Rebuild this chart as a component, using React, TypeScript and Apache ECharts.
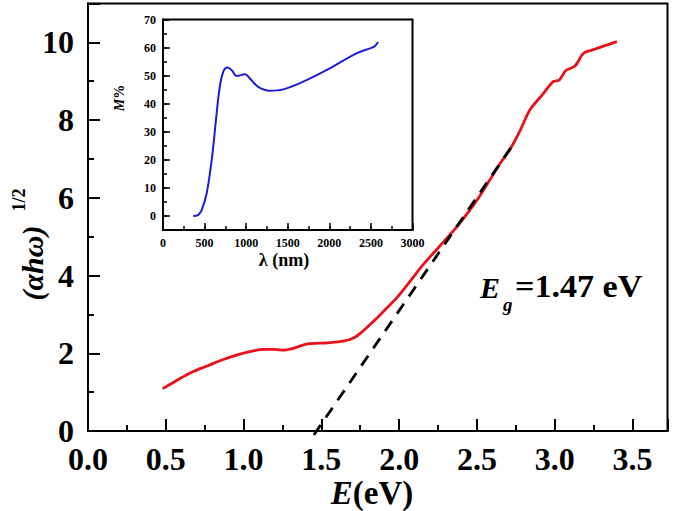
import React, { useEffect, useRef } from 'react';
import * as echarts from 'echarts';

const FONT = '"Liberation Serif", "Times New Roman", serif';

// Main curve: photon energy (eV) vs (alpha h omega)^1/2
const energyEv = [0.48, 0.57, 0.66, 0.77, 0.87, 0.96, 1.04, 1.13, 1.2, 1.26, 1.33, 1.41, 1.54, 1.64, 1.71, 1.77, 1.84, 1.9, 1.99, 2.08, 2.15, 2.27, 2.38, 2.5, 2.65, 2.71, 2.78, 2.84, 2.92, 2.99, 3.03, 3.07, 3.13, 3.185, 3.24, 3.29, 3.4];
const tauc = [1.09, 1.3, 1.5, 1.68, 1.84, 1.96, 2.04, 2.1, 2.1, 2.08, 2.14, 2.24, 2.27, 2.31, 2.4, 2.58, 2.84, 3.08, 3.45, 3.9, 4.26, 4.8, 5.3, 5.94, 6.89, 7.23, 7.75, 8.26, 8.65, 8.99, 9.03, 9.27, 9.39, 9.72, 9.8, 9.87, 10.02];

// Tangent (band-gap extrapolation)
const tangentX = [1.452, 2.72];
const tangentY = [-0.1, 7.3];

// Inset: wavelength (nm) vs M%
const lambdaNm = [364, 395, 424, 465, 525, 585, 637, 677, 725, 773, 825, 885, 985, 1045, 1145, 1285, 1445, 1726, 2006, 2326, 2506, 2546, 2586];
const mPercent = [0, 0.1, 0.35, 2.1, 8.1, 19.9, 34.2, 44.8, 51.4, 52.9, 52, 49.9, 50.5, 49, 46, 44.6, 45.1, 48.4, 52.6, 57.9, 59.9, 60.5, 62.0];

const mainXLabels = [0, 0.5, 1, 1.5, 2, 2.5, 3, 3.5];
const mainYLabels = [0, 2, 4, 6, 8, 10];
const insetYMajor = [0, 10, 20, 30, 40, 50, 60, 70];

const near = (v: number, arr: number[]) => arr.some((a) => Math.abs(a - v) < 1e-6);

export default function App() {
  const ref = useRef<HTMLDivElement>(null);
  useEffect(() => {
    document.body.style.margin = '0';
    const chart = echarts.init(ref.current!, null, { renderer: 'svg' });
    const black = '#000';
    const baseAxis = {
      type: 'value' as const,
      splitLine: { show: false },
    };
    const option: any = {
      animation: false,
      backgroundColor: '#fff',
      grid: [
        { left: 88, top: 3.5, width: 579.5, height: 427.5, show: true, borderColor: black, borderWidth: 2, backgroundColor: 'transparent' },
        { left: 163, top: 19.5, width: 249.5, height: 210.5, show: true, borderColor: black, borderWidth: 2, backgroundColor: '#fff' },
      ],
      xAxis: [
        {
          ...baseAxis, gridIndex: 0, min: 0, max: 3.725, interval: 0.25, position: 'bottom',
          axisLine: { onZero: false, lineStyle: { color: black, width: 2 } },
          axisTick: { inside: true, length: 6, lineStyle: { color: black, width: 2 } },
          axisLabel: {
            margin: 12, color: black, fontFamily: FONT, fontWeight: 'bold', fontSize: 32,
            formatter: (v: number) => (near(v, mainXLabels) ? v.toFixed(1) : ''),
          },
        },
        {
          ...baseAxis, gridIndex: 0, min: 0, max: 3.725, interval: 0.5, position: 'bottom',
          axisLine: { show: false, onZero: false },
          axisTick: { inside: true, length: 12, lineStyle: { color: black, width: 2 } },
          axisLabel: { show: false },
        },
        {
          ...baseAxis, gridIndex: 1, min: 0, max: 3000, interval: 250, position: 'bottom',
          axisLine: { onZero: false, lineStyle: { color: black, width: 2 } },
          axisTick: { inside: true, length: 4, lineStyle: { color: black, width: 1.5 } },
          axisLabel: {
            margin: 7, color: black, fontFamily: FONT, fontWeight: 'bold', fontSize: 12,
            formatter: (v: number) => (Math.round(v) % 500 === 0 ? String(Math.round(v)) : ''),
          },
        },
        {
          ...baseAxis, gridIndex: 1, min: 0, max: 3000, interval: 500, position: 'bottom',
          axisLine: { show: false, onZero: false },
          axisTick: { inside: true, length: 7, lineStyle: { color: black, width: 1.5 } },
          axisLabel: { show: false },
        },
      ],
      yAxis: [
        {
          ...baseAxis, gridIndex: 0, min: 0, max: 11, interval: 1, position: 'left',
          axisLine: { onZero: false, lineStyle: { color: black, width: 2 } },
          axisTick: { inside: true, length: 6, lineStyle: { color: black, width: 2 } },
          axisLabel: {
            margin: 14, color: black, fontFamily: FONT, fontWeight: 'bold', fontSize: 32,
            formatter: (v: number) => (near(v, mainYLabels) ? String(v) : ''),
          },
        },
        {
          ...baseAxis, gridIndex: 0, min: 0, max: 11, interval: 2, position: 'left',
          axisLine: { show: false, onZero: false },
          axisTick: { inside: true, length: 12, lineStyle: { color: black, width: 2 } },
          axisLabel: { show: false },
        },
        {
          ...baseAxis, gridIndex: 1, min: -5, max: 70, interval: 5, position: 'left',
          axisLine: { onZero: false, lineStyle: { color: black, width: 2 } },
          axisTick: { inside: true, length: 4, lineStyle: { color: black, width: 1.5 } },
          axisLabel: {
            margin: 7, color: black, fontFamily: FONT, fontWeight: 'bold', fontSize: 12,
            formatter: (v: number) => (near(v, insetYMajor) ? String(Math.round(v)) : ''),
          },
        },
        {
          ...baseAxis, gridIndex: 1, min: -5, max: 70, position: 'left',
          axisLine: { show: false, onZero: false },
          axisTick: { inside: true, length: 7, customValues: insetYMajor, lineStyle: { color: black, width: 1.5 } },
          axisLabel: { show: false },
        },
      ],
      series: [
        {
          type: 'line', xAxisIndex: 0, yAxisIndex: 0, smooth: 0.3, showSymbol: false,
          data: energyEv.map((x, i) => [x, tauc[i]]),
          lineStyle: { color: '#e8121a', width: 2.8 },
          z: 2,
        },
        {
          type: 'line', xAxisIndex: 0, yAxisIndex: 0, showSymbol: false, clip: false,
          data: tangentX.map((x, i) => [x, tangentY[i]]),
          lineStyle: { color: black, width: 2.8, type: [12, 9] },
          z: 3,
        },
        {
          type: 'line', xAxisIndex: 2, yAxisIndex: 2, smooth: 0.4, showSymbol: false,
          data: lambdaNm.map((x, i) => [x, mPercent[i]]),
          lineStyle: { color: '#1c1cd6', width: 2 },
          z: 4,
        },
      ],
      graphic: [
        {
          type: 'text', x: 32, y: 263, rotation: Math.PI / 2,
          style: { text: '(αhω)', font: `italic bold 30px ${FONT}`, fill: black, align: 'center', verticalAlign: 'middle' },
        },
        {
          type: 'text', x: 19, y: 200, rotation: Math.PI / 2,
          style: { text: '1/2', font: `bold 18px ${FONT}`, fill: black, align: 'center', verticalAlign: 'middle' },
        },
        {
          type: 'text', x: 372, y: 493,
          style: {
            text: '{i|E}{n|(eV)}', align: 'center', verticalAlign: 'middle', fill: black,
            rich: {
              i: { fontFamily: FONT, fontStyle: 'italic', fontWeight: 'bold', fontSize: 33, fill: black },
              n: { fontFamily: FONT, fontWeight: 'bold', fontSize: 33, fill: black },
            },
          },
        },
        {
          type: 'text', x: 480, y: 287,
          style: { text: 'E', font: `italic bold 30px ${FONT}`, fill: black, align: 'left', verticalAlign: 'middle' },
        },
        {
          type: 'text', x: 503, y: 304,
          style: { text: 'g', font: `italic bold 19px ${FONT}`, fill: black, align: 'left', verticalAlign: 'middle' },
        },
        {
          type: 'text', x: 515, y: 287, scaleX: 1.1,
          style: { text: '=1.47 eV', font: `bold 31px ${FONT}`, fill: black, align: 'left', verticalAlign: 'middle' },
        },
        {
          type: 'text', x: 119, y: 98, rotation: Math.PI / 2,
          style: {
            text: '{i|M}{n|%}', align: 'center', verticalAlign: 'middle', fill: black,
            rich: {
              i: { fontFamily: FONT, fontStyle: 'italic', fontWeight: 'bold', fontSize: 14, fill: black },
              n: { fontFamily: FONT, fontWeight: 'bold', fontSize: 14, fill: black },
            },
          },
        },
        {
          type: 'text', x: 284, y: 260,
          style: { text: 'λ (nm)', font: `bold 18px ${FONT}`, fill: black, align: 'center', verticalAlign: 'middle' },
        },
      ],
    };
    chart.setOption(option);
    return () => chart.dispose();
  }, []);
  return <div ref={ref} style={{ position: 'absolute', left: 0, top: 0, width: 675, height: 511, background: '#fff' }} />;
}
